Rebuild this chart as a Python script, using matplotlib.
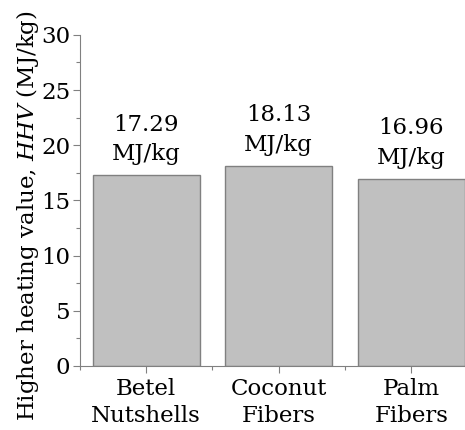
import matplotlib.pyplot as plt
import numpy as np

plt.rcParams["font.family"] = ["DejaVu Serif"]
plt.rcParams["mathtext.fontset"] = "dejavuserif"

categories = ["Betel\nNutshells", "Coconut\nFibers", "Palm\nFibers"]
hhv = [17.29, 18.13, 16.96]
y_ticks = [0, 5, 10, 15, 20, 25, 30]

fs = 16.5
grey = "#808080"

fig = plt.figure(figsize=(4.65, 4.3), dpi=100)
ax = fig.add_axes([0.172, 0.149, 0.828, 0.770])

x = np.arange(len(categories))
bars = ax.bar(x, hhv, width=0.81, color="#c0c0c0", edgecolor=grey, linewidth=1.0)

for xi, v in zip(x, hhv):
    ax.annotate(f"{v:.2f}\nMJ/kg", (xi, v), xytext=(0, 7), textcoords="offset points",
                ha="center", va="bottom", fontsize=fs, linespacing=1.45)

ax.set_xlim(-0.5, 2.406)
ax.set_ylim(0, 30)
ax.set_yticks(y_ticks)
ax.set_yticks(np.arange(0, 30.1, 2.5), minor=True)
ax.set_xticks(x)
ax.set_xticks([-0.5, 0.5, 1.5], minor=True)
ax.set_xticklabels(categories, fontsize=fs, linespacing=1.3)
ax.tick_params(axis="y", labelsize=fs, pad=2)
ax.tick_params(which="both", direction="out", color=grey, width=0.8)
ax.tick_params(which="major", length=5)
ax.tick_params(which="minor", length=3)

for side in ["top", "right"]:
    ax.spines[side].set_visible(False)
for side in ["left", "bottom"]:
    ax.spines[side].set_color(grey)
    ax.spines[side].set_linewidth(0.8)

ax.set_ylabel(r"Higher heating value, $\it{HHV}$ (MJ/kg)", fontsize=fs)
ax.yaxis.set_label_coords(-0.101, 0.455)

fig.savefig("out.png", dpi=100)
